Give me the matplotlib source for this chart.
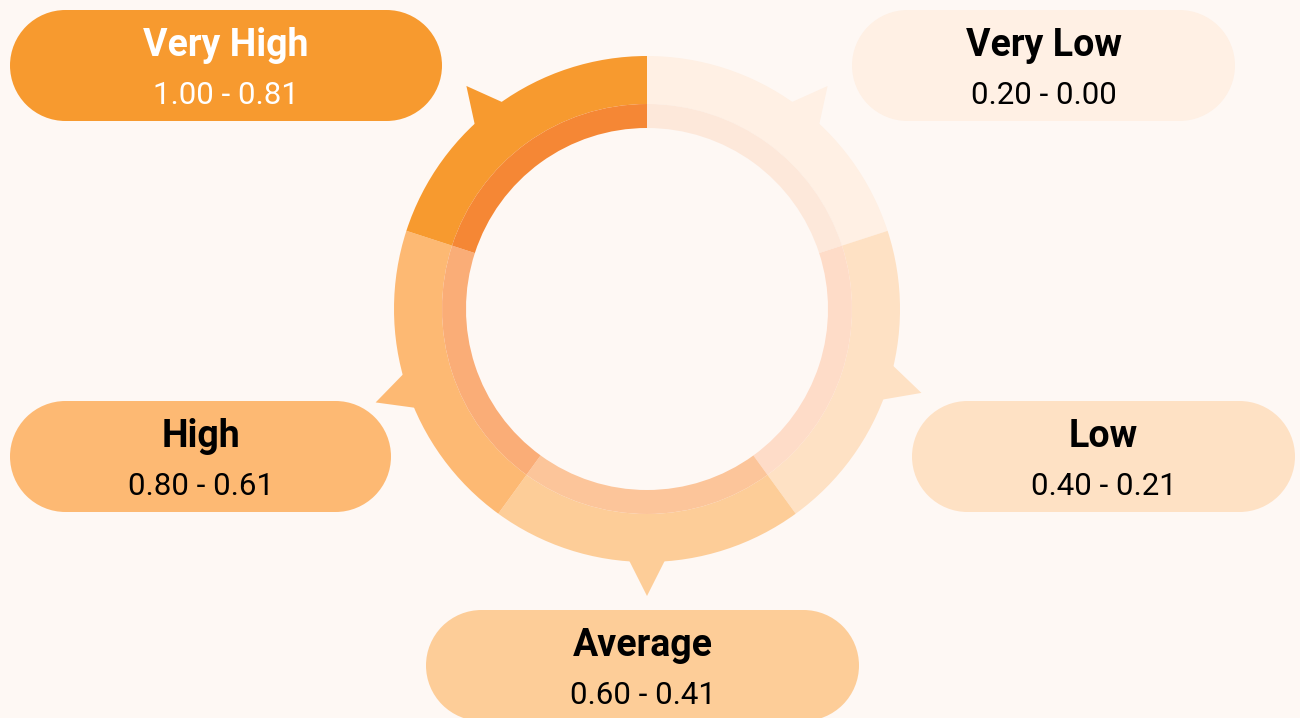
import numpy as np
import matplotlib.pyplot as plt
from matplotlib.patches import Wedge, Polygon, Rectangle, Circle

# categories, score ranges and share of the ring (clockwise from the top)
categories = ["Very Low", "Low", "Average", "High", "Very High"]
ranges = ["0.20 - 0.00", "0.40 - 0.21", "0.60 - 0.41", "0.80 - 0.61", "1.00 - 0.81"]
shares = [0.2, 0.2, 0.2, 0.2, 0.2]

outer_colors = ["#FFF0E4", "#FEE1C4", "#FDCD98", "#FDB973", "#F79A2F"]
inner_colors = ["#FDE8DA", "#FEDCC8", "#FCC59A", "#FAAD77", "#F58735"]
text_colors = ["black", "black", "black", "black", "white"]

# label boxes in pixel coords (left, top, width) of the image
boxes = [(852, 10, 383), (912, 401, 383), (426, 610, 433), (10, 401, 381), (10, 10, 432)]
pointer_offsets = [-3, 1, 0, 1, 3]  # pointer shift from segment middle (deg)

W, H = 1300, 718
BG = "#FEF8F4"
cx, cy = 647, H - 309
r_out, r_mid, r_in = 253, 205, 181


def pill(ax, left, bottom, w, h, color):
    r = h / 2
    ax.add_patch(Rectangle((left + r, bottom), w - 2 * r, h, facecolor=color, edgecolor="none"))
    ax.add_patch(Circle((left + r, bottom + r), r, facecolor=color, edgecolor="none"))
    ax.add_patch(Circle((left + w - r, bottom + r), r, facecolor=color, edgecolor="none"))


fig = plt.figure(figsize=(13, 7.18), dpi=100, facecolor=BG)
ax = fig.add_axes([0, 0, 1, 1])
ax.set_xlim(0, W)
ax.set_ylim(0, H)
ax.axis("off")
ax.set_facecolor(BG)

start = 90.0
for i, cat in enumerate(categories):
    span = shares[i] * 360
    t1, t2 = start - span, start
    ax.add_patch(Wedge((cx, cy), r_out, t1, t2, width=r_out - r_mid,
                       facecolor=outer_colors[i], edgecolor="none"))
    ax.add_patch(Wedge((cx, cy), r_mid, t1, t2, width=r_mid - r_in,
                       facecolor=inner_colors[i], edgecolor="none"))

    # pointer triangle on the outer edge
    a = np.radians((t1 + t2) / 2 + pointer_offsets[i])
    da = np.radians(4.5)
    rb = r_out - 4
    tri = [(cx + rb * np.cos(a - da), cy + rb * np.sin(a - da)),
           (cx + 287 * np.cos(a), cy + 287 * np.sin(a)),
           (cx + rb * np.cos(a + da), cy + rb * np.sin(a + da))]
    ax.add_patch(Polygon(tri, closed=True, facecolor=outer_colors[i], edgecolor="none"))

    # pill label
    left, top, bw = boxes[i]
    bh = 111
    pill(ax, left, H - top - bh, bw, bh, outer_colors[i])
    xc = left + bw / 2
    ax.text(xc, H - top - 46, cat, ha="center", va="baseline", fontsize=27,
            fontweight="bold", color=text_colors[i], family="Roboto")
    ax.text(xc, H - top - 94, ranges[i], ha="center", va="baseline", fontsize=22.5,
            color=text_colors[i], family="Roboto")

    start = t1

fig.savefig("out.png", dpi=100, facecolor=BG)
